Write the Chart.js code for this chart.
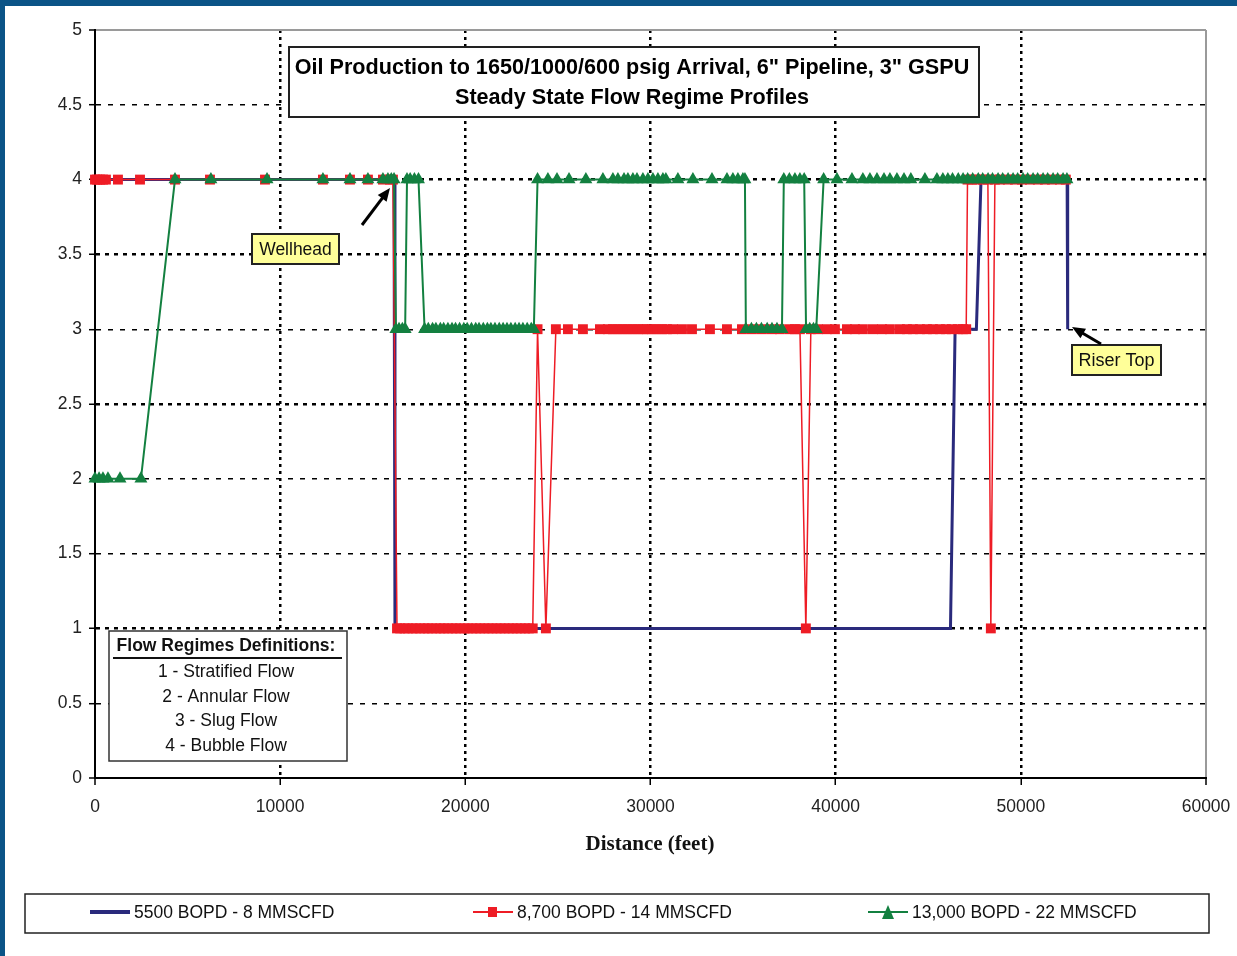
<!DOCTYPE html>
<html>
<head>
<meta charset="utf-8">
<title>Steady State Flow Regime Profiles</title>
<script src="https://cdn.jsdelivr.net/npm/chart.js@4.4.1/dist/chart.umd.min.js"></script>
<style>
  html, body { margin: 0; padding: 0; background: #fff; }
  #wrap { position: relative; width: 1237px; height: 956px; }
</style>
</head>
<body>
<div id="wrap"><canvas id="chart" width="1237" height="956"></canvas></div>
<script>
// DATA
// -----------------------------------------------------------------------------
var xTicks = [0, 10000, 20000, 30000, 40000, 50000, 60000];
var yTicks = [0, 0.5, 1, 1.5, 2, 2.5, 3, 3.5, 4, 4.5, 5];

var titleLines = ['Oil Production to 1650/1000/600 psig Arrival, 6" Pipeline, 3" GSPU',
                  'Steady State Flow Regime Profiles'];
var xTitle = 'Distance (feet)';
var regimeHeader = 'Flow Regimes Definitions:';
var regimeNames = ['1 - Stratified Flow', '2 - Annular Flow', '3 - Slug Flow', '4 - Bubble Flow'];
var seriesNames = ['5500 BOPD - 8 MMSCFD', '8,700 BOPD - 14 MMSCFD', '13,000 BOPD - 22 MMSCFD'];

// [distance (ft), flow regime]
var bluePoints = [
    [0, 4], [16150, 4], [16200, 1], [46200, 1], [46450, 3], [47600, 3],
    [47850, 4], [52500, 4], [52530, 3]
];

var redPoints = [
    [0, 4], [110, 4], [270, 4], [430, 4], [590, 4], [1240, 4], [2430, 4], [4320, 4],
    [6210, 4], [9180, 4], [12310, 4], [13770, 4], [14740, 4], [15550, 4], [15930, 4], [16090, 4],
    [16310, 1], [16480, 1], [16720, 1], [16900, 1], [17150, 1], [17330, 1], [17560, 1],
    [17790, 1], [17980, 1], [18200, 1], [18430, 1], [18650, 1], [18840, 1], [19070, 1],
    [19300, 1], [19490, 1], [19720, 1], [19950, 1], [20140, 1], [20380, 1], [20590, 1],
    [20800, 1], [21030, 1], [21250, 1], [21460, 1], [21690, 1], [21900, 1], [22120, 1],
    [22350, 1], [22560, 1], [22780, 1], [22990, 1], [23220, 1], [23430, 1], [23640, 1],
    [23900, 3], [24350, 1],
    [24890, 3], [25540, 3], [26350, 3], [27270, 3], [27700, 3], [27970, 3], [28240, 3],
    [28510, 3], [28780, 3], [29050, 3], [29320, 3], [29590, 3], [29810, 3], [30080, 3],
    [30350, 3], [30620, 3], [30890, 3], [31210, 3], [31700, 3], [32240, 3], [33210, 3],
    [34130, 3], [34940, 3], [35480, 3], [36020, 3], [36560, 3], [36990, 3], [37530, 3],
    [37800, 3], [38070, 3],
    [38390, 1],
    [38660, 3], [39040, 3], [39530, 3], [39960, 3], [40610, 3], [41040, 3], [41470, 3],
    [42010, 3], [42500, 3], [42930, 3], [43470, 3], [43850, 3], [44170, 3], [44550, 3],
    [44930, 3], [45250, 3], [45630, 3], [45950, 3], [46280, 3], [46600, 3], [46870, 3], [47050, 3],
    [47120, 4], [47360, 4], [47630, 4], [47950, 4], [48220, 4],
    [48380, 1],
    [48600, 4], [48870, 4], [49300, 4], [49680, 4], [50060, 4], [50490, 4], [50920, 4],
    [51300, 4], [51680, 4], [52110, 4], [52430, 4]
];

var greenPoints = [
    [0, 2], [220, 2], [430, 2], [700, 2], [1350, 2], [2480, 2],
    [4320, 4], [6260, 4], [9290, 4], [12310, 4], [13770, 4], [14740, 4], [15550, 4],
    [15820, 4], [16000, 4], [16150, 4],
    [16250, 3], [16420, 3], [16600, 3], [16750, 3],
    [16850, 4], [17020, 4], [17250, 4], [17470, 4],
    [17800, 3], [18000, 3], [18230, 3], [18410, 3], [18650, 3], [18830, 3], [19060, 3],
    [19280, 3], [19470, 3], [19690, 3], [19920, 3], [20100, 3], [20330, 3], [20560, 3],
    [20740, 3], [20970, 3], [21190, 3], [21380, 3], [21600, 3], [21830, 3], [22040, 3],
    [22250, 3], [22460, 3], [22690, 3], [22900, 3], [23110, 3], [23340, 3], [23560, 3], [23700, 3],
    [23900, 4], [24460, 4], [24950, 4], [25600, 4], [26510, 4], [27430, 4], [27970, 4],
    [28240, 4], [28570, 4], [28780, 4], [29050, 4], [29270, 4], [29590, 4], [29860, 4],
    [30130, 4], [30400, 4], [30670, 4], [30830, 4], [31480, 4], [32290, 4], [33320, 4],
    [34130, 4], [34450, 4], [34720, 4], [34990, 4], [35100, 4],
    [35150, 3], [35450, 3], [35720, 3], [35990, 3], [36300, 3], [36560, 3], [36830, 3], [37100, 3],
    [37200, 4], [37500, 4], [37800, 4], [38070, 4], [38300, 4],
    [38400, 3], [38600, 3], [38800, 3], [38950, 3],
    [39350, 4], [40070, 4], [40880, 4], [41470, 4], [41850, 4], [42230, 4], [42610, 4],
    [42930, 4], [43310, 4], [43690, 4], [44060, 4], [44820, 4], [45470, 4], [45790, 4],
    [46060, 4], [46310, 4], [46620, 4], [46880, 4], [47130, 4], [47400, 4], [47700, 4],
    [47940, 4], [48230, 4], [48470, 4], [48770, 4], [49020, 4], [49310, 4], [49580, 4],
    [49830, 4], [50120, 4], [50370, 4], [50660, 4], [50910, 4], [51200, 4], [51450, 4],
    [51740, 4], [51990, 4], [52280, 4], [52490, 4]
];

// COLOURS / FONTS
// -----------------------------------------------------------------------------
var BLUE = '#2a2a7c';
var RED = '#ee1c25';
var GREEN = '#138040';
var SANS = '"Liberation Sans", Arial, sans-serif';
var SERIF = '"Liberation Serif", "Times New Roman", serif';

function toXY(list) {
    return list.map(function(p) { return { x: p[0], y: p[1] }; });
}

// Y grid: some lines print heavier (dotted), the rest thin dashed
var heavyY = [4, 3.5, 2.5, 1];

// DRAW HELPERS
// -----------------------------------------------------------------------------
function drawArrow(ctx, x1, y1, x2, y2) {
    var a = Math.atan2(y2 - y1, x2 - x1);
    var c = Math.cos(a), s = Math.sin(a);
    ctx.save();
    ctx.strokeStyle = '#000';
    ctx.fillStyle = '#000';
    ctx.lineWidth = 3;
    ctx.beginPath();
    ctx.moveTo(x1, y1);
    ctx.lineTo(x2 - 8 * c, y2 - 8 * s);
    ctx.stroke();
    ctx.beginPath();
    ctx.moveTo(x2, y2);
    ctx.lineTo(x2 - 13 * c + 5.5 * s, y2 - 13 * s - 5.5 * c);
    ctx.lineTo(x2 - 13 * c - 5.5 * s, y2 - 13 * s + 5.5 * c);
    ctx.closePath();
    ctx.fill();
    ctx.restore();
}

function noteBox(ctx, x, y, w, h, text, size) {
    ctx.save();
    ctx.fillStyle = '#ffff99';
    ctx.fillRect(x, y, w, h);
    ctx.strokeStyle = '#222';
    ctx.lineWidth = 2;
    ctx.strokeRect(x, y, w, h);
    ctx.fillStyle = '#111';
    ctx.font = size + 'px ' + SANS;
    ctx.textAlign = 'center';
    ctx.textBaseline = 'middle';
    ctx.fillText(text, x + w / 2, y + h / 2 + 1);
    ctx.restore();
}

var decorations = {
    id: 'decorations',
    afterDraw: function(chart) {
        var ctx = chart.ctx;
        var i;

        // Title box
        ctx.save();
        ctx.fillStyle = '#fff';
        ctx.fillRect(289, 47, 690, 70);
        ctx.strokeStyle = '#222';
        ctx.lineWidth = 2;
        ctx.strokeRect(289, 47, 690, 70);
        ctx.fillStyle = '#000';
        ctx.font = 'bold 21.6px ' + SANS;
        ctx.textAlign = 'center';
        ctx.textBaseline = 'middle';
        ctx.fillText(titleLines[0], 632, 68);
        ctx.fillText(titleLines[1], 632, 98);
        ctx.restore();

        // Flow regime definitions
        ctx.save();
        ctx.fillStyle = '#fff';
        ctx.fillRect(109, 631, 238, 130);
        ctx.strokeStyle = '#333';
        ctx.lineWidth = 1.5;
        ctx.strokeRect(109, 631, 238, 130);
        ctx.fillStyle = '#111';
        ctx.textAlign = 'center';
        ctx.textBaseline = 'middle';
        ctx.font = 'bold 17.5px ' + SANS;
        ctx.fillText(regimeHeader, 226, 646);
        ctx.lineWidth = 2;
        ctx.strokeStyle = '#111';
        ctx.beginPath();
        ctx.moveTo(113, 658);
        ctx.lineTo(342, 658);
        ctx.stroke();
        ctx.font = '17.5px ' + SANS;
        for (i = 0; i < regimeNames.length; i++) {
            ctx.fillText(regimeNames[i], 226, 672 + i * 24.7);
        }
        ctx.restore();

        // Callouts
        noteBox(ctx, 252, 234, 87, 30, 'Wellhead', 17.5);
        drawArrow(ctx, 362, 225, 390, 188);
        noteBox(ctx, 1072, 345, 89, 30, 'Riser Top', 18);
        drawArrow(ctx, 1101, 344, 1072, 327);

        // X axis title
        ctx.save();
        ctx.fillStyle = '#111';
        ctx.font = 'bold 21px ' + SERIF;
        ctx.textAlign = 'center';
        ctx.textBaseline = 'middle';
        ctx.fillText(xTitle, 650, 845);
        ctx.restore();

        // Legend
        ctx.save();
        ctx.strokeStyle = '#222';
        ctx.lineWidth = 1.5;
        ctx.strokeRect(25, 894, 1184, 39);
        ctx.font = '17.5px ' + SANS;
        ctx.fillStyle = '#111';
        ctx.textBaseline = 'middle';
        var lx = [90, 473, 868];
        var ly = 912;
        var ds = chart.data.datasets;
        for (i = 0; i < ds.length; i++) {
            ctx.strokeStyle = ds[i].borderColor;
            ctx.lineWidth = i === 0 ? 4 : 2;
            ctx.beginPath();
            ctx.moveTo(lx[i], ly);
            ctx.lineTo(lx[i] + 40, ly);
            ctx.stroke();
            ctx.fillStyle = ds[i].backgroundColor;
            if (ds[i].pointStyle === 'rect') {
                ctx.fillRect(lx[i] + 15, ly - 5, 9, 10);
            } else if (ds[i].pointStyle === 'triangle') {
                ctx.beginPath();
                ctx.moveTo(lx[i] + 20, ly - 7);
                ctx.lineTo(lx[i] + 26, ly + 7);
                ctx.lineTo(lx[i] + 14, ly + 7);
                ctx.closePath();
                ctx.fill();
            }
            ctx.fillStyle = '#111';
            ctx.fillText(seriesNames[i], lx[i] + 44, ly + 1);
        }
        ctx.restore();

        // Page frame
        ctx.save();
        ctx.fillStyle = '#0b5487';
        ctx.fillRect(0, 0, 1237, 6);
        ctx.fillRect(0, 0, 5, 956);
        ctx.restore();
    }
};

// CHART
// -----------------------------------------------------------------------------
var chart = new Chart(document.getElementById('chart'), {
    type: 'scatter',
    data: {
        datasets: [{
            label: seriesNames[0],
            data: toXY(bluePoints),
            showLine: true,
            borderColor: BLUE,
            backgroundColor: BLUE,
            borderWidth: 3,
            pointRadius: 0,
            clip: false,
            order: 3
        }, {
            label: seriesNames[1],
            data: toXY(redPoints),
            showLine: true,
            borderColor: RED,
            backgroundColor: RED,
            borderWidth: 1.5,
            pointStyle: 'rect',
            pointRadius: 7,
            pointBorderWidth: 0,
            clip: false,
            order: 2
        }, {
            label: seriesNames[2],
            data: toXY(greenPoints),
            showLine: true,
            borderColor: GREEN,
            backgroundColor: GREEN,
            borderWidth: 2,
            pointStyle: 'triangle',
            pointRadius: 7.5,
            pointBorderWidth: 0,
            clip: false,
            order: 1
        }]
    },
    options: {
        responsive: false,
        animation: false,
        devicePixelRatio: 1,
        layout: { padding: { left: 0, top: 30, right: 31, bottom: 0 } },
        elements: { line: { tension: 0 } },
        plugins: {
            legend: { display: false },
            tooltip: { enabled: false }
        },
        scales: {
            x: {
                type: 'linear',
                min: 0,
                max: 60000,
                afterBuildTicks: function(s) {
                    s.ticks = xTicks.map(function(v) { return { value: v }; });
                },
                afterFit: function(s) {
                    s.height = 178;
                    s.paddingLeft = 0;
                    s.paddingRight = 0;
                },
                ticks: {
                    padding: 12,
                    color: '#222',
                    font: { family: SANS, size: 17.5 },
                    maxRotation: 0,
                    callback: function(v) { return String(v); }
                },
                grid: {
                    color: function(c) {
                        return c.tick && c.tick.value === 60000 ? '#9a9a9a' : '#000';
                    },
                    lineWidth: function(c) {
                        if (!c.tick) return 2;
                        return (c.tick.value === 0 || c.tick.value === 60000) ? 2 : 2.5;
                    },
                    tickLength: 7,
                    tickWidth: 1.5,
                    tickColor: '#000'
                },
                border: {
                    display: true,
                    color: '#000',
                    width: 2,
                    dash: function(c) {
                        if (!c.tick) return [];
                        var v = c.tick.value;
                        return (v === 0 || v === 60000) ? [] : [3, 4];
                    }
                }
            },
            y: {
                type: 'linear',
                min: 0,
                max: 5,
                afterBuildTicks: function(s) {
                    s.ticks = yTicks.map(function(v) { return { value: v }; });
                },
                afterFit: function(s) {
                    s.width = 95;
                    s.paddingTop = 0;
                    s.paddingBottom = 0;
                },
                ticks: {
                    padding: 7,
                    color: '#222',
                    font: { family: SANS, size: 17.5 },
                    callback: function(v) { return String(v); }
                },
                grid: {
                    color: function(c) {
                        return c.tick && c.tick.value === 5 ? '#9a9a9a' : '#000';
                    },
                    lineWidth: function(c) {
                        if (!c.tick) return 2;
                        var v = c.tick.value;
                        if (v === 0 || v === 5) return 2;
                        return heavyY.indexOf(v) >= 0 ? 2.5 : 1.4;
                    },
                    tickLength: 6,
                    tickWidth: 1.5,
                    tickColor: '#000'
                },
                border: {
                    display: true,
                    color: '#000',
                    width: 2,
                    dash: function(c) {
                        if (!c.tick) return [];
                        var v = c.tick.value;
                        if (v === 0 || v === 5) return [];
                        return heavyY.indexOf(v) >= 0 ? [4, 5] : [5, 7];
                    }
                }
            }
        }
    },
    plugins: [decorations]
});
</script>
</body>
</html>
